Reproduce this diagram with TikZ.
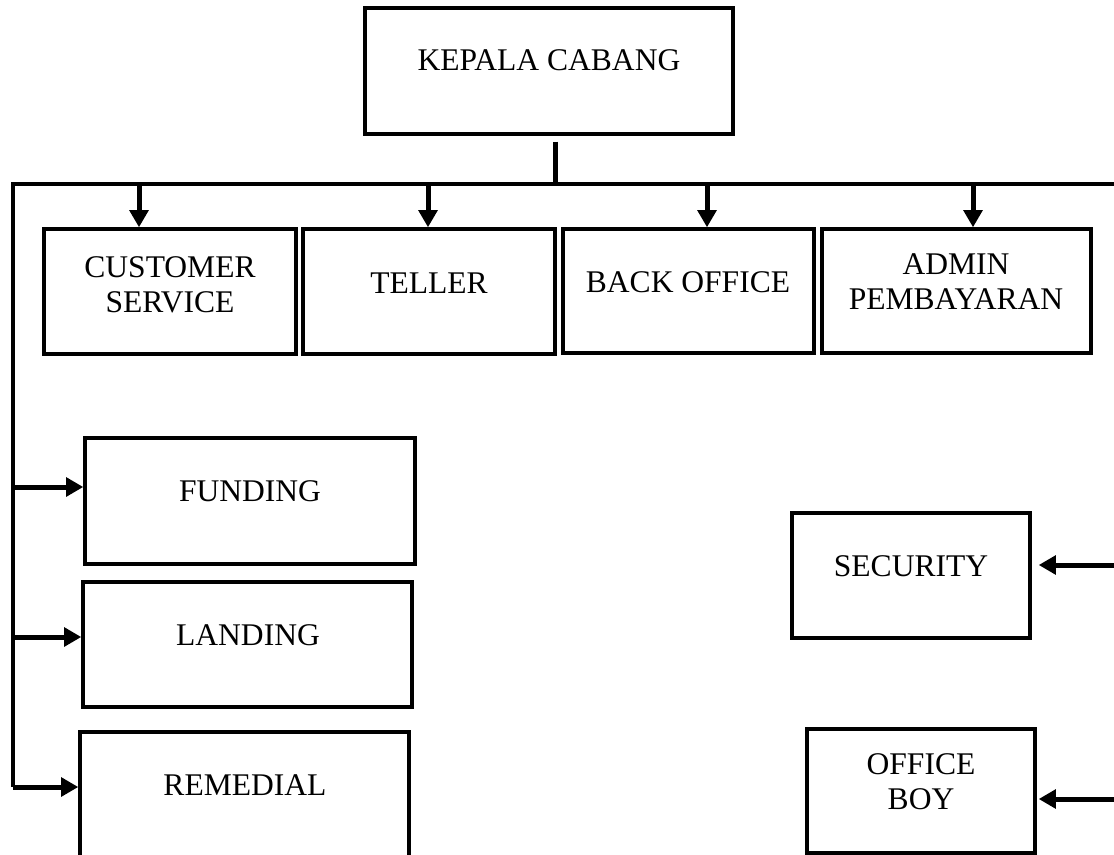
\documentclass[tikz,border=0pt]{standalone}
\usepackage{fontspec}
\setmainfont{Liberation Serif}
\usetikzlibrary{positioning,arrows.meta,calc}
\newcommand{\px}{0.01337cm}
\tikzset{
  every node/.style={font=\fontsize{12}{13.3}\selectfont},
  % --- nodes
  unit/.style = {draw=black, line width=1.3pt, fill=white, inner sep=0pt},
  wd/.style   = {minimum width=#1*\px},
  ht/.style   = {minimum height=#1*\px},
  lbl/.style  = {align=center, inner sep=0pt},
  % --- edges
  ln/.style = {draw=black, line width=1.9pt},
  ar/.style = {ln, -{Triangle[length=6.5pt,width=7pt]}},
}
\begin{document}
\begin{tikzpicture}[x=\px, y=-\px]
  \useasboundingbox (0,0) rectangle (1114,854);
  \clip (0,0) rectangle (1114,854);
  % boxes
  \node[unit,wd=368,ht=126] (kc)   at (549,71)    {};
  \node[unit,wd=252,ht=125] (cs)   at (170,291.5) {};
  \node[unit,wd=252,ht=125] (tel)  at (429,291.5) {};
  \node[unit,wd=251,ht=124] (bo)   at (688.5,291) {};
  \node[unit,wd=269,ht=124] (adm)  at (956.5,291) {};
  \node[unit,wd=330,ht=126] (fund) at (250,501)   {};
  \node[unit,wd=329,ht=125] (land) at (247.5,644.5) {};
  \node[unit,wd=329,ht=156] (rem)  at (244.5,810) {};
  \node[unit,wd=238,ht=125] (sec)  at (911,575.5) {};
  \node[unit,wd=228,ht=124] (ob)   at (921,791)   {};
  % labels
  \node[lbl] (kc-t)   at (549,60)  {KEPALA CABANG};
  \node[lbl] (cs-t)   at (170,285) {CUSTOMER\\SERVICE};
  \node[lbl] (tel-t)  at (429,283) {TELLER};
  \node[lbl] (bo-t)   at (688,282) {BACK OFFICE};
  \node[lbl] (adm-t)  at (956,282) {ADMIN\\PEMBAYARAN};
  \node[lbl] (fund-t) at (250,491) {FUNDING};
  \node[lbl] (land-t) at (248,635) {LANDING};
  \node[lbl] (rem-t)  at (245,785) {REMEDIAL};
  \node[lbl] (sec-t)  at (911,566) {SECURITY};
  \node[lbl] (ob-t)   at (921,782) {OFFICE\\BOY};
  % bus
  \coordinate (j)  at (555,184);
  \coordinate (bl) at (13,184);
  \coordinate (br) at (1124,184);
  \coordinate (sb) at (13,787);
  \draw[ln] ($(kc.south -| j)+(0,6)$) -- (j);
  \draw[ln] (br) -- (bl) -- (sb);
  % entry points
  \coordinate (cs-in)   at ($(cs.north)+(-31,0)$);
  \coordinate (tel-in)  at ($(tel.north)+(-1,0)$);
  \coordinate (bo-in)   at ($(bo.north)+(18.5,0)$);
  \coordinate (adm-in)  at ($(adm.north)+(16.5,0)$);
  \coordinate (fund-in) at ($(fund.west)+(0,-14)$);
  \coordinate (land-in) at ($(land.west)+(0,-7.5)$);
  \coordinate (rem-in)  at ($(rem.west)+(0,-23)$);
  \coordinate (sec-in)  at ($(sec.east)+(7,-10.5)$);
  \coordinate (ob-in)   at ($(ob.east)+(2,8)$);
  \draw[ar] (cs-in |- j) -- (cs-in); \draw[ar] (tel-in |- j) -- (tel-in);
  \draw[ar] (bo-in |- j) -- (bo-in); \draw[ar] (adm-in |- j) -- (adm-in);
  \draw[ar] (sb |- fund-in) -- (fund-in); \draw[ar] (sb |- land-in) -- (land-in);
  \draw[ar] (sb |- rem-in) -- (rem-in);
  \draw[ar] (br |- sec-in) -- (sec-in); \draw[ar] (br |- ob-in) -- (ob-in);
\end{tikzpicture}
\end{document}
